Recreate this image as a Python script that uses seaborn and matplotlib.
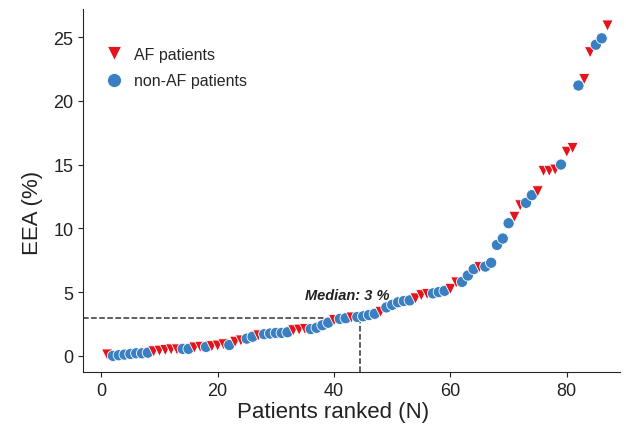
import numpy as np
import pandas as pd
import matplotlib
matplotlib.use('Agg')
import matplotlib.pyplot as plt
import seaborn as sns

# EEA (%) per patient, sorted ascending; group
eea = [0.1, 0.0, 0.05, 0.1, 0.15, 0.2, 0.2, 0.25, 0.35, 0.4,
       0.45, 0.5, 0.5, 0.55, 0.55, 0.65, 0.7, 0.7, 0.75, 0.8,
       0.9, 0.85, 1.1, 1.2, 1.35, 1.5, 1.6, 1.7, 1.75, 1.8,
       1.8, 1.85, 2.0, 2.05, 2.1, 2.1, 2.2, 2.4, 2.6, 2.8,
       2.9, 2.95, 3.0, 3.05, 3.1, 3.2, 3.3, 3.45, 3.8, 4.0,
       4.2, 4.3, 4.35, 4.5, 4.75, 4.85, 4.9, 5.0, 5.1, 5.25,
       5.75, 5.8, 6.3, 6.8, 6.95, 7.0, 7.3, 8.7, 9.2, 10.4,
       10.9, 11.8, 12.0, 12.6, 12.9, 14.5, 14.5, 14.6, 15.0, 16.0,
       16.3, 21.2, 21.7, 23.8, 24.4, 24.9, 25.9]
is_af = [1, 0, 0, 0, 0, 0, 0, 0, 1, 1,
         1, 1, 1, 0, 0, 1, 1, 0, 1, 1,
         1, 0, 1, 1, 0, 0, 1, 0, 0, 0,
         0, 0, 1, 1, 1, 0, 0, 0, 0, 1,
         0, 0, 1, 0, 0, 0, 0, 1, 0, 0,
         0, 0, 0, 1, 1, 1, 0, 0, 0, 1,
         1, 0, 0, 0, 1, 0, 0, 0, 0, 0,
         1, 1, 0, 0, 1, 1, 1, 1, 0, 1,
         1, 0, 1, 1, 0, 0, 1]
median_rank = 44.5
median_eea = 3

df = pd.DataFrame({'rank': np.arange(1, len(eea) + 1), 'eea': eea,
                   'group': ['AF patients' if a else 'non-AF patients' for a in is_af]})

sns.set_style('ticks')
plt.rcParams['font.family'] = ['Liberation Sans', 'DejaVu Sans']

fig = plt.figure(figsize=(6.26, 4.35), dpi=100)
ax = fig.add_axes([0.133, 0.143, 0.857, 0.834])

sns.scatterplot(data=df, x='rank', y='eea', hue='group', style='group',
                hue_order=['AF patients', 'non-AF patients'],
                style_order=['AF patients', 'non-AF patients'],
                palette={'AF patients': '#e3141b', 'non-AF patients': '#3a7fc1'},
                markers={'AF patients': 'v', 'non-AF patients': 'o'},
                s=65, edgecolor='white', linewidth=0.6, ax=ax, zorder=3)

ax.set_xlim(-3.1, 89.1)
ax.set_ylim(-1.25, 27.2)
xmin = ax.get_xlim()[0]
ymin = ax.get_ylim()[0]
ax.plot([xmin, median_rank], [median_eea, median_eea], ls='--', color='#333333', lw=1.1, zorder=1)
ax.plot([median_rank, median_rank], [ymin, median_eea], ls='--', color='#333333', lw=1.1, zorder=1)

ax.text(median_rank - 2.3, median_eea + 1.8, 'Median: 3 %', ha='center', va='center',
        fontsize=10.5, fontweight='bold', fontstyle='italic', color='#222222')

ax.set_xticks([0, 20, 40, 60, 80])
ax.set_yticks([0, 5, 10, 15, 20, 25])
ax.tick_params(labelsize=13, colors='#222222')
ax.set_xlabel('Patients ranked (N)', fontsize=16, color='#222222')
ax.set_ylabel('EEA (%)', fontsize=16, color='#222222')
ax.xaxis.set_label_coords(0.465, -0.08)
ax.yaxis.set_label_coords(-0.075, 0.44)
sns.despine(ax=ax)

leg = ax.legend(loc='upper left', frameon=False, fontsize=11.5, bbox_to_anchor=(0.0, 0.935),
                handletextpad=0.3, labelspacing=0.7, markerscale=1.25)

fig.savefig('out.png', dpi=100)
